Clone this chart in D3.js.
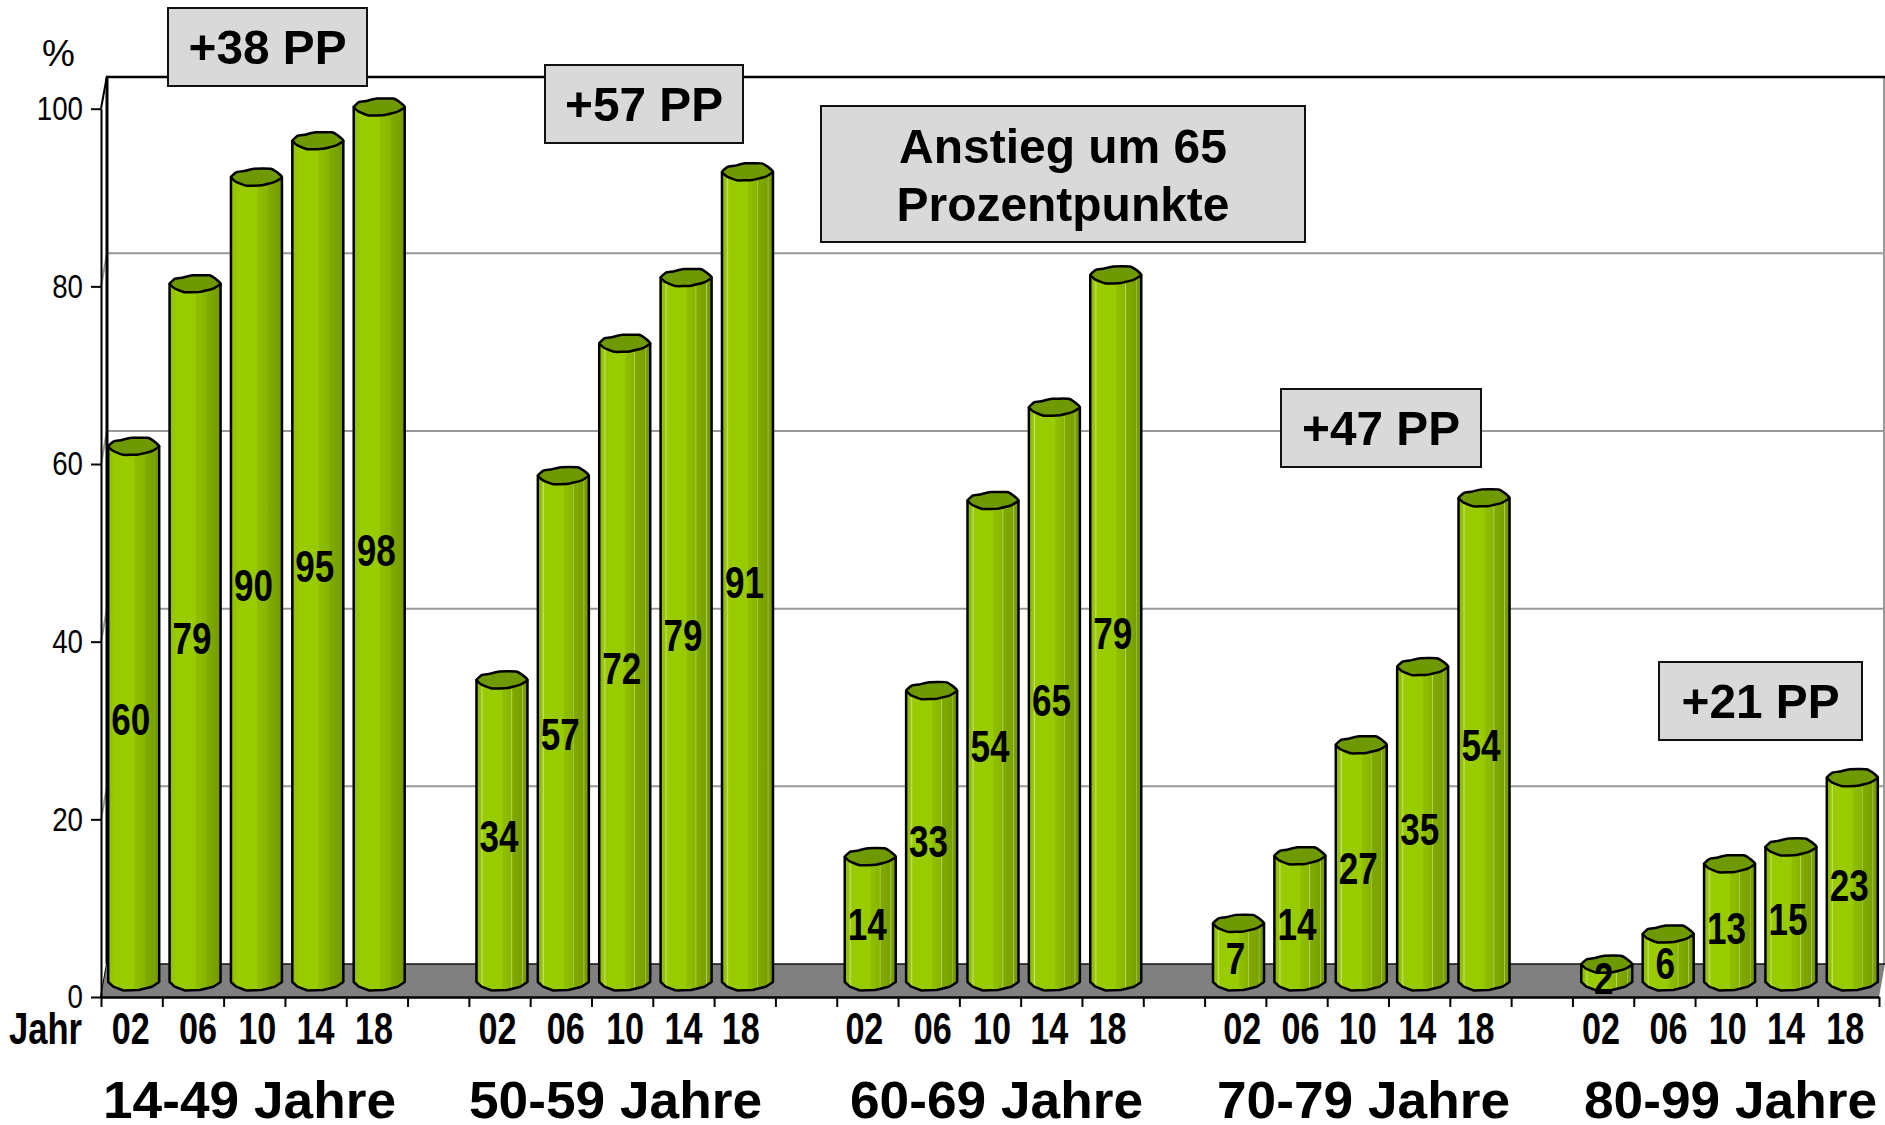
<!DOCTYPE html>
<html>
<head>
<meta charset="utf-8">
<script src="https://cdn.jsdelivr.net/npm/d3@7"></script>
<style>
  html, body { margin: 0; padding: 0; background: #fff; }
  svg { display: block; }
  text { font-family: "Liberation Sans", Arial, sans-serif; fill: #000; }
</style>
</head>
<body>
<div id="chart"></div>
<script>
const ageGroups = ["14-49 Jahre", "50-59 Jahre", "60-69 Jahre", "70-79 Jahre", "80-99 Jahre"];
const years = ["02", "06", "10", "14", "18"];
// bar heights
const heights14 = [60.3, 78.6, 90.6, 94.7, 98.5];
const heights50 = [34, 57, 71.9, 79.3, 91.2];
const heights60 = [14.1, 32.8, 54.2, 64.7, 79.6];
const heights70 = [6.6, 14.2, 26.7, 35.5, 54.5];
const heights80 = [2, 5.4, 13.3, 15.2, 23];
// numbers printed on the bars
const labels14 = [60, 79, 90, 95, 98];
const labels50 = [34, 57, 72, 79, 91];
const labels60 = [14, 33, 54, 65, 79];
const labels70 = [7, 14, 27, 35, 54];
const labels80 = [2, 6, 13, 15, 23];
const yTicks = [0, 20, 40, 60, 80, 100];
const boxTexts = [["+38 PP"], ["+57 PP"], ["Anstieg um 65", "Prozentpunkte"], ["+47 PP"], ["+21 PP"]];

const allHeights = [heights14, heights50, heights60, heights70, heights80];
const allLabels = [labels14, labels50, labels60, labels70, labels80];

const width = 1885, height = 1125;
const depthX = 6, depthY = 33;
const left = 101, right = 1879, y0 = 997, y100 = 108.7;
const slotCount = 29;

const svg = d3.select("#chart").append("svg")
    .attr("width", width)
    .attr("height", height);

const y = d3.scaleLinear().domain([0, 100]).range([y0, y100]);
const xTick = d3.scaleLinear().domain([0, slotCount]).range([left, right]);
const xBar = d3.scaleBand().domain(d3.range(slotCount)).range([left + 2, right + 4]);

// gradients: first group is clean, the others have the thin light streaks
const defs = svg.append("defs");
const plainStops = [[0, "#8cba00"], [0.06, "#93c400"], [0.15, "#99cc00"], [0.5, "#99cc00"], [0.52, "#8fbf00"], [0.72, "#88b500"], [0.74, "#80aa00"], [0.92, "#78a000"], [1, "#6f9400"]];
const streakStops = [[0, "#8cba00"], [0.08, "#93c400"], [0.11, "#c2dc70"], [0.13, "#99cc00"], [0.5, "#99cc00"], [0.52, "#8fbf00"], [0.68, "#88b500"], [0.69, "#bcd56a"], [0.71, "#80aa00"], [0.89, "#78a000"], [0.9, "#b0c860"], [0.92, "#78a000"], [1, "#6f9400"]];
[["barPlain", plainStops], ["barStreak", streakStops]].forEach(([id, stops]) => {
  const g = defs.append("linearGradient").attr("id", id);
  stops.forEach(s => g.append("stop").attr("offset", s[0]).attr("stop-color", s[1]));
});

// back wall
svg.append("g").selectAll("line")
    .data(yTicks.filter(t => t > 0 && t < 100))
    .join("line")
    .attr("x1", left + depthX).attr("x2", right + depthX)
    .attr("y1", d => y(d) - depthY).attr("y2", d => y(d) - depthY)
    .attr("stroke", "#999").attr("stroke-width", 2);

svg.append("g").selectAll("line")
    .data(yTicks)
    .join("line")
    .attr("x1", left).attr("x2", left + depthX)
    .attr("y1", d => y(d)).attr("y2", d => y(d) - depthY)
    .attr("stroke", d => (d === 0 || d === 100) ? "#000" : "#999")
    .attr("stroke-width", 2);

svg.append("line")
    .attr("x1", right + depthX - 1).attr("x2", right + depthX - 1)
    .attr("y1", 77).attr("y2", y(0) - depthY)
    .attr("stroke", "#999").attr("stroke-width", 2);

svg.append("line")
    .attr("x1", left + depthX).attr("x2", width)
    .attr("y1", 77).attr("y2", 77)
    .attr("stroke", "#000").attr("stroke-width", 2.5);

svg.append("line")
    .attr("x1", left + depthX).attr("x2", left + depthX)
    .attr("y1", 77).attr("y2", y(0) - depthY)
    .attr("stroke", "#000").attr("stroke-width", 3);

// floor
svg.append("polygon")
    .attr("points", [[left, y0], [left + depthX, y0 - depthY], [right + depthX, y0 - depthY], [right, y0]].join(" "))
    .attr("fill", "#808080");
svg.append("line")
    .attr("x1", left + depthX).attr("x2", right + depthX)
    .attr("y1", y0 - depthY).attr("y2", y0 - depthY)
    .attr("stroke", "#111").attr("stroke-width", 1.5);

// axes
const yAxis = svg.append("g")
    .attr("transform", `translate(${left},0)`)
    .call(d3.axisLeft(y).tickValues(yTicks).tickSize(10).tickSizeOuter(0).tickPadding(8));
yAxis.selectAll("line").attr("stroke", "#000").attr("stroke-width", 2);
yAxis.select(".domain").attr("stroke", "#000").attr("stroke-width", 2);
yAxis.selectAll("text")
    .attr("textLength", d => String(d).length * 15.4)
    .attr("lengthAdjust", "spacingAndGlyphs")
    .style("font-size", "34px");

const xAxis = svg.append("g")
    .attr("transform", `translate(0,${y0})`)
    .call(d3.axisBottom(xTick).tickValues(d3.range(slotCount + 1)).tickSize(10).tickSizeOuter(0).tickFormat(""));
xAxis.selectAll("line").attr("stroke", "#000").attr("stroke-width", 2);
xAxis.select(".domain").attr("stroke", "#000").attr("stroke-width", 2.5);

// cylinders
const capShape = [[-1, 0], [-0.78, -0.6], [-0.5, -0.72], [-0.1, -1], [0.55, -1], [0.8, -0.6], [1, 0],
                  [0.72, 0.55], [0.2, 0.95], [-0.4, 1], [-0.8, 0.55]];
const bottomShape = capShape.slice(6).concat([[-1, 0]]);
const rx = 25.5, ry = 8.5;
const lift = 15;
const baseY = y0 - lift;

const barData = [];
allHeights.forEach((vals, g) => vals.forEach((v, i) => {
  barData.push({group: g, slot: g * 6 + i, value: v, label: allLabels[g][i]});
}));

const capLine = d3.line().curve(d3.curveCardinalClosed.tension(0.6));

const bars = svg.append("g").selectAll("g")
    .data(barData)
    .join("g")
    .attr("transform", d => `translate(${xBar(d.slot) + xBar.bandwidth() / 2},0)`);

bars.append("path")
    .attr("d", d => {
      const top = y(d.value) - lift;
      const bottom = bottomShape.slice().reverse().map(p => `L${p[0] * rx},${baseY + p[1] * ry}`).join("");
      return `M${-rx},${top}${bottom}L${rx},${top}Z`;
    })
    .attr("fill", d => d.group === 0 ? "url(#barPlain)" : "url(#barStreak)")
    .attr("stroke", "#000")
    .attr("stroke-width", 2.5)
    .attr("stroke-linejoin", "round");

bars.append("path")
    .attr("d", d => capLine(capShape.map(p => [p[0] * rx, y(d.value) - lift + p[1] * ry])))
    .attr("fill", "#6f9900")
    .attr("stroke", "#000")
    .attr("stroke-width", 2.5);

bars.append("text")
    .attr("x", -3)
    .attr("y", d => (y(d.value) - lift + baseY) / 2 + 21)
    .attr("text-anchor", "middle")
    .attr("textLength", d => String(d.label).length * 19.5)
    .attr("lengthAdjust", "spacingAndGlyphs")
    .style("font-size", "45px")
    .style("font-weight", "bold")
    .text(d => d.label);

// year labels sit a little off the slot centres, the way they were placed by hand
const yearNudge = [[-1, 5, 3, 0, -3], [-2, 5, 3, 0, -4], [-3, 4, 2, -2, -5], [7, 4, 0, -2, -5], [-2, 4, 2, -1, -3]];
svg.append("g").selectAll("text")
    .data(barData)
    .join("text")
    .attr("x", d => xTick(d.slot + 0.5) + yearNudge[d.group][d.slot - d.group * 6])
    .attr("y", 1044)
    .attr("text-anchor", "middle")
    .attr("textLength", 38)
    .attr("lengthAdjust", "spacingAndGlyphs")
    .style("font-size", "44px")
    .style("font-weight", "bold")
    .text(d => years[d.slot - d.group * 6]);

svg.append("text")
    .attr("x", 9).attr("y", 1044)
    .attr("textLength", 73)
    .attr("lengthAdjust", "spacingAndGlyphs")
    .style("font-size", "44px")
    .style("font-weight", "bold")
    .text("Jahr");

svg.append("text")
    .attr("x", 42).attr("y", 66)
    .style("font-size", "37px")
    .text("%");

// age group labels
const groupX = [103, 469, 850, 1217, 1584];
svg.append("g").selectAll("text")
    .data(ageGroups)
    .join("text")
    .attr("x", (d, i) => groupX[i])
    .attr("y", 1118)
    .attr("textLength", 293)
    .attr("lengthAdjust", "spacingAndGlyphs")
    .style("font-size", "52px")
    .style("font-weight", "bold")
    .text(d => d);

// call-out boxes
const boxRects = [[168, 8, 199, 78], [545, 65, 198, 78], [821, 106, 484, 136], [1281, 389, 200, 78], [1659, 662, 203, 78]];
const boxes = svg.append("g").selectAll("g")
    .data(boxTexts)
    .join("g");
boxes.append("rect")
    .attr("x", (d, i) => boxRects[i][0])
    .attr("y", (d, i) => boxRects[i][1])
    .attr("width", (d, i) => boxRects[i][2])
    .attr("height", (d, i) => boxRects[i][3])
    .attr("fill", "#d9d9d9")
    .attr("stroke", "#111")
    .attr("stroke-width", 2);
boxes.each(function(lines, i) {
  const r = boxRects[i];
  lines.forEach((line, k) => {
    d3.select(this).append("text")
      .attr("x", r[0] + r[2] / 2)
      .attr("y", lines.length > 1 ? r[1] + 57 + k * 58 : r[1] + 56)
      .attr("text-anchor", "middle")
      .attr("textLength", lines.length > 1 ? (k === 0 ? 328 : 333) : 158)
      .attr("lengthAdjust", "spacingAndGlyphs")
      .style("font-size", "49px")
      .style("font-weight", "bold")
      .text(line);
  });
});
</script>
</body>
</html>
